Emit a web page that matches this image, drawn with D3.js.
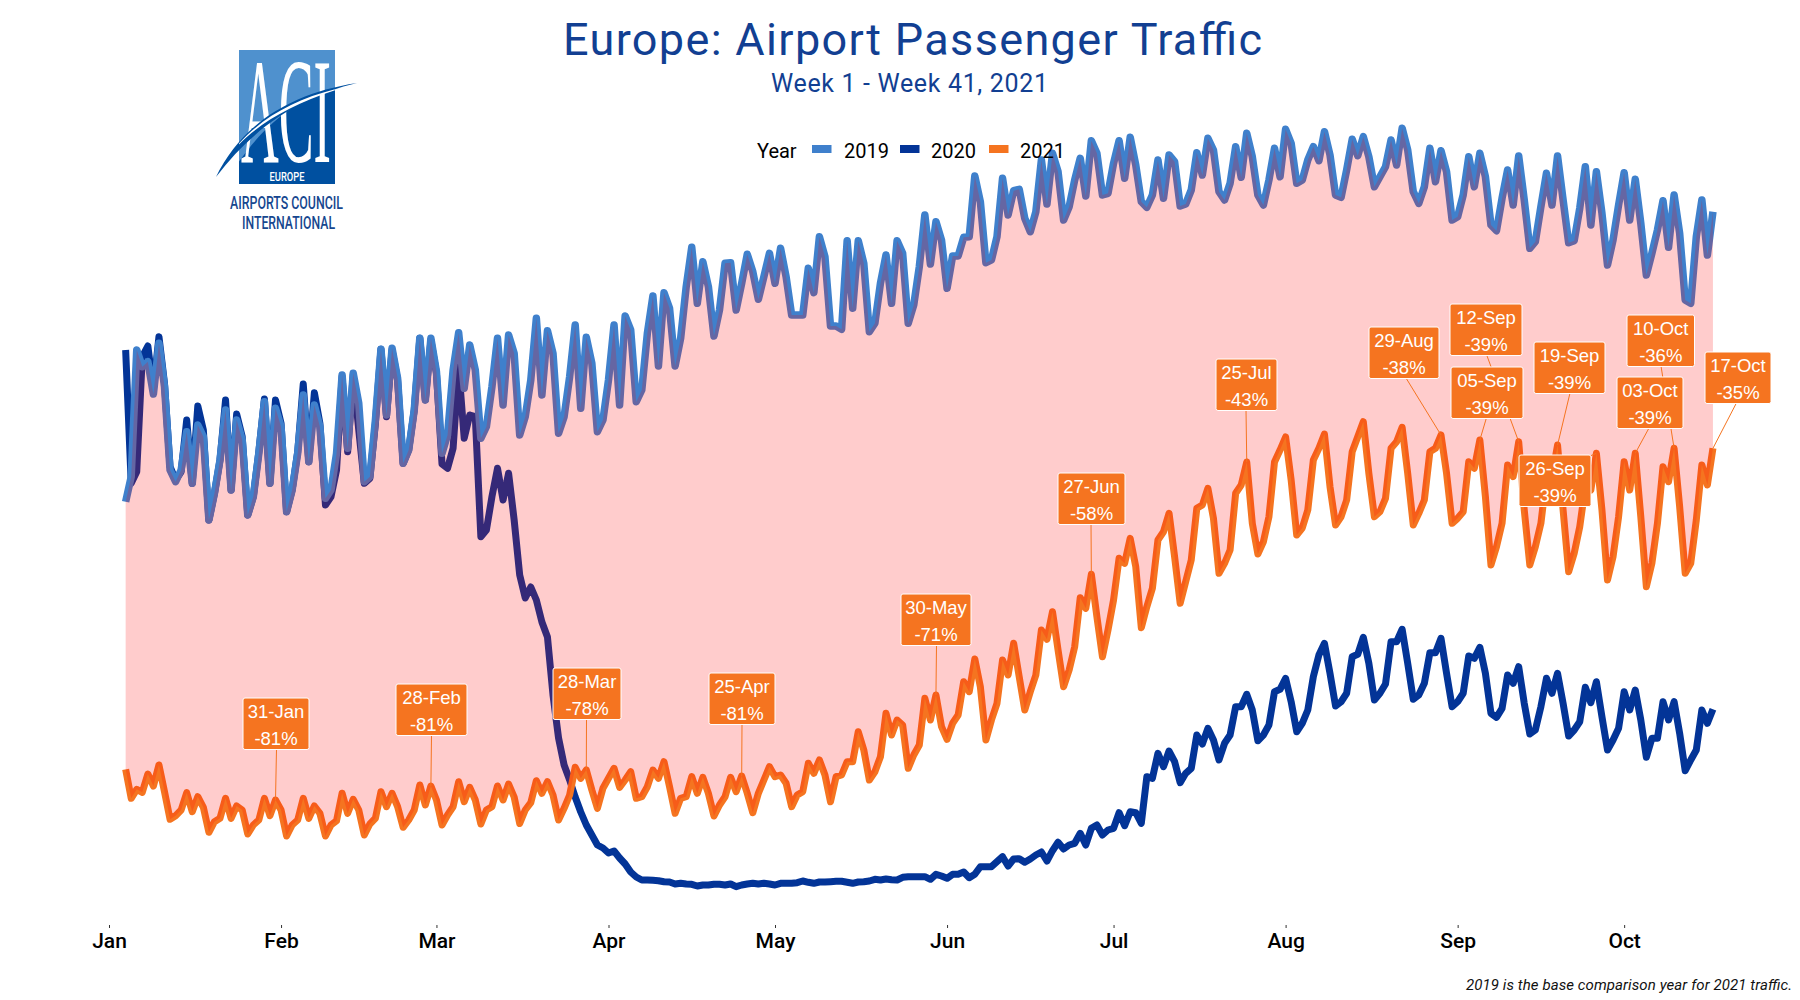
<!DOCTYPE html>
<html><head><meta charset="utf-8">
<style>html,body{margin:0;padding:0;background:#fff}svg{display:block}</style>
<script src="https://cdn.jsdelivr.net/npm/d3@7"></script>
</head><body><div id="c"></div>
<script>
// Daily airport passengers (thousands), 4 Jan .. 17 Oct
const firstDay = "2021-01-04", lastDay = "2021-10-17";
const pax2019 = [3933,4183,5450,5283,5333,5010,5517,5083,4250,4133,4250,4633,4117,4700,4583,3750,4017,4350,4850,4050,4750,4550,3800,3983,4417,4933,4117,4867,4683,3833,4050,4417,5000,4333,4900,4683,3967,4050,4417,5200,4467,5217,4917,4133,4183,4750,5457,4800,5467,5167,4317,4450,4850,5567,4950,5567,5233,4417,4600,5250,5623,5067,5500,5250,4567,4683,5083,5567,4900,5600,
5417,4600,4783,5150,5767,5000,5643,5417,4617,4783,5183,5700,4867,5577,5317,4633,4750,5150,5700,4900,5790,5650,4933,5050,5617,5990,5290,6023,5867,5290,5567,6083,6477,5917,6333,6083,5590,5850,6317,6323,5850,6117,6407,6233,5957,6183,6417,6117,6467,6183,5800,5800,5800,6267,6023,6583,6383,5690,5690,5657,6543,5867,6543,6317,5633,5717,6117,6400,5917,6543,
6417,5717,5900,6283,6800,6310,6733,6550,6067,6390,6390,6577,6583,7190,6933,6323,6350,6583,7167,6800,7043,7057,6767,6633,6833,7350,6910,7417,7233,6750,6883,7150,7367,6990,7543,7417,7000,7017,7317,7543,7167,7577,7300,6933,6877,7000,7350,6967,7400,7333,6890,6910,7050,7423,7200,7567,7450,7033,6950,7117,7483,7177,7617,7383,7000,6900,7150,7467,7183,7657,7517,7117,7150,7350,
7483,7343,7633,7400,7000,6977,7250,7557,7393,7583,7383,7083,7183,7283,7550,7300,7667,7450,7033,6917,7083,7467,7133,7443,7233,6750,6783,7000,7383,7083,7417,7183,6700,6643,6967,7250,6900,7390,6950,6467,6533,6883,7217,6900,7390,6950,6523,6543,6867,7283,6700,7233,6817,6300,6550,6900,7223,6750,7157,6717,6200,6417,6650,6943,6477,7000,6617,5950,5917,6583,6950,6400,6833];
const pax2020 = [5450,4117,4233,5383,5490,5050,5583,5117,4283,4150,4233,4750,4117,4890,4650,3750,4017,4350,4950,4050,4810,4583,3800,3983,4433,4960,4117,4950,4717,3833,4050,4433,5110,4333,5023,4717,3900,3983,4250,5183,4433,5200,4650,4117,4167,4717,5457,4783,5450,5150,4317,4450,4850,5567,4950,5550,5217,4310,4267,4467,5283,4567,4800,4783,3583,3650,3983,4267,3950,4217,
3750,3200,2970,3080,2950,2730,2580,2000,1570,1300,1150,980,830,700,600,500,470,420,440,370,310,230,180,150,150,147,143,133,130,110,117,110,107,90,100,100,107,107,100,110,83,100,110,117,110,117,110,100,117,117,117,123,140,127,117,130,130,133,137,137,127,117,130,133,140,157,150,160,153,150,
177,183,183,183,183,157,207,190,167,207,207,230,173,207,283,283,283,333,383,290,360,363,327,360,400,430,340,443,527,460,500,517,617,500,667,700,600,650,667,823,693,833,823,717,1183,1167,1417,1283,1440,1333,1123,1217,1267,1600,1510,1667,1550,1350,1517,1600,1883,1883,2007,1850,1543,1600,1700,2033,2057,2167,1933,1633,1717,1850,
2183,2400,2517,2217,1890,1933,2017,2383,2407,2577,2317,1950,2017,2110,2533,2533,2657,2317,1957,2000,2117,2423,2423,2567,2217,1883,1933,2017,2390,2367,2477,2217,1817,1777,1867,2200,2117,2283,1917,1610,1650,1883,2167,2017,2217,1917,1590,1650,1733,2077,1923,2133,1783,1450,1550,1667,2033,1850,2050,1750,1377,1567,1567,1933,1750,1933,1617,1243,1350,1450,1850,1717,1857];
const pax2021 = [1257,967,1057,1027,1210,1090,1300,1033,757,793,850,1023,833,983,877,627,733,767,967,767,890,850,610,700,750,967,793,950,850,590,700,750,967,767,890,817,590,700,743,1017,817,957,850,600,710,767,1033,883,1017,883,677,750,850,1100,900,1090,950,700,800,883,1133,933,1077,950,710,850,883,1090,950,1110,
980,715,850,923,1143,1017,1133,1000,750,867,1000,1277,1167,1250,1050,867,1067,1167,1267,1077,1150,1233,967,983,1083,1250,1167,1333,1083,817,967,983,1183,1017,1177,1017,790,900,983,1177,1033,1190,1017,823,1017,1150,1283,1183,1200,1117,883,1000,1033,1317,1217,1350,1200,933,1183,1200,1333,1333,1633,1450,1150,1233,1383,1817,1600,1750,
1700,1267,1400,1500,1967,1750,2000,1683,1557,1717,1800,2133,2033,2360,2083,1550,1750,1917,2350,2200,2517,2183,1850,2033,2200,2650,2557,2833,2450,2083,2250,2483,2973,2867,3207,2783,2383,2650,2950,3367,3317,3567,3283,2673,2883,3067,3550,3633,3817,3383,2917,3133,3350,3867,3900,4067,3767,3217,3317,3450,4017,4100,4330,3717,3410,3533,3783,4330,4450,4580,4150,3600,3670,3850,
4350,4467,4610,4083,3700,3783,3950,4433,4583,4733,4217,3783,3833,3967,4467,4533,4677,4217,3700,3817,3950,4433,4467,4600,4217,3717,3767,3833,4333,4267,4550,3983,3300,3483,3717,4300,4183,4533,3850,3300,3483,3717,4183,4183,4500,3850,3233,3417,3683,4083,4050,4417,3850,3150,3383,3783,4333,4050,4417,3783,3083,3317,3717,4283,4133,4467,3883,3217,3317,3750,4300,4100,4467];

const years = ["2019","2020","2021"];
const monthNames = ["Jan","Feb","Mar","Apr","May","Jun","Jul","Aug","Sep","Oct"];
const labelDates = ["2021-01-31","2021-02-28","2021-03-28","2021-04-25","2021-05-30","2021-06-27","2021-07-25","2021-08-29","2021-09-05","2021-09-12","2021-09-19","2021-09-26","2021-10-03","2021-10-10","2021-10-17"];
const labelNames = ["31-Jan","28-Feb","28-Mar","25-Apr","30-May","27-Jun","25-Jul","29-Aug","05-Sep","12-Sep","19-Sep","26-Sep","03-Oct","10-Oct","17-Oct"];
const labelPct = ["-81%","-81%","-78%","-81%","-71%","-58%","-43%","-38%","-39%","-39%","-39%","-39%","-39%","-36%","-35%"];
// label box layout: [left, top, width, leader start x, leader start y]
const labelLayout = [[243,698,66,276.5,749],[396,684,71,431.5,735],[553,668,68,586.5,718],[709,673,66,742,724],[901,594,70,936.5,645],[1058,473,67,1091,524],[1216,359,61,1246,410],[1369,327,70,1406,378],[1451,367,72,1486.7,417],[1450,304,72,1486.7,355],[1534,342,71,1570,393],[1519,455,72,1590,456],[1617,377,66,1649,428],[1627,315,67.5,1661,366],[1705,352,66,1736.4,403]];

const W = 1800, H = 1000;
const parse = d3.utcParse("%Y-%m-%d");
const days = d3.utcDay.range(parse(firstDay), d3.utcDay.offset(parse(lastDay), 1));
[pax2019, pax2020, pax2021].forEach((a, i) => { if (a.length !== days.length) throw new Error("length " + years[i] + " " + a.length + " vs " + days.length); });

const x = d3.scaleUtc().domain([parse("2021-01-01"), parse("2021-10-17")]).range([109, 109 + 5.55 * 289]);
const y = d3.scaleLinear().domain([0, 7000]).range([895, 195]);
const col = {"2019": "#3F80CC", "2020": "#033497", "2021": "#F57420"};
const series = {"2019": pax2019, "2020": pax2020, "2021": pax2021};
const widths = {"2019": 7.5, "2020": 7, "2021": 7};

const svg = d3.select("#c").append("svg").attr("width", W).attr("height", H).attr("viewBox", `0 0 ${W} ${H}`);
const font = "Roboto, sans-serif";

// lines are under the translucent ribbon
const line = d3.line().x((d, i) => x(days[i])).y(d => y(d)).curve(d3.curveLinear);
["2020", "2019", "2021"].forEach(k => svg.append("path").attr("d", line(series[k])).attr("fill", "none")
  .attr("stroke", col[k]).attr("stroke-width", widths[k]).attr("stroke-linejoin", "round").attr("stroke-linecap", "butt"));
const ribbon = d3.area().x((d, i) => x(days[i])).y0((d, i) => y(pax2021[i])).y1(d => y(d));
svg.append("path").attr("d", ribbon(pax2019)).attr("fill", "#FF0000").attr("fill-opacity", 0.2);

// axis
const axis = d3.axisBottom(x).tickValues(monthNames.map((m, i) => new Date(Date.UTC(2021, i, 1))))
  .tickFormat((d, i) => monthNames[i]).tickSize(3).tickSizeOuter(0).tickPadding(5);
const gx = svg.append("g").attr("transform", "translate(0,925)").call(axis);
gx.select(".domain").remove();
gx.selectAll("line").attr("stroke", "#333");
gx.selectAll("text").attr("font-family", font).attr("font-size", 21).attr("font-weight", 500).attr("fill", "#000");

// labels
const lab = labelDates.map((s, i) => {
  const dt = parse(s), idx = d3.utcDay.count(days[0], dt);
  return {px: x(dt), py: y(pax2021[idx]), name: labelNames[i], pct: labelPct[i], b: labelLayout[i]};
});
const gl = svg.append("g");
gl.selectAll("line").data(lab).join("line")
  .attr("x1", d => d.b[3]).attr("y1", d => d.b[4]).attr("x2", d => d.px).attr("y2", d => d.py)
  .attr("stroke", col["2021"]).attr("stroke-width", 1);
const gb = gl.selectAll("g").data(lab).join("g");
gb.append("rect").attr("x", d => d.b[0]).attr("y", d => d.b[1]).attr("width", d => d.b[2]).attr("height", 51.5)
  .attr("rx", 2).attr("fill", col["2021"]).attr("stroke", "#fff").attr("stroke-width", 1);
const lf = "'Liberation Sans', Arial, sans-serif";
gb.append("text").attr("x", d => d.b[0] + d.b[2] / 2).attr("y", d => d.b[1] + 20).attr("text-anchor", "middle")
  .attr("font-family", lf).attr("font-size", 18.5).attr("fill", "#fff").text(d => d.name);
gb.append("text").attr("x", d => d.b[0] + d.b[2] / 2).attr("y", d => d.b[1] + 46.5).attr("text-anchor", "middle")
  .attr("font-family", lf).attr("font-size", 18.5).attr("fill", "#fff").text(d => d.pct);

// titles
const navy = "#123F92";
svg.append("text").attr("x", 563).attr("y", 55).attr("font-family", font).attr("font-size", 45).attr("fill", navy)
  .attr("textLength", 699).attr("lengthAdjust", "spacing").text("Europe: Airport Passenger Traffic");
svg.append("text").attr("x", 771).attr("y", 92).attr("font-family", font).attr("font-size", 25).attr("fill", navy)
  .attr("textLength", 277).attr("lengthAdjust", "spacing").text("Week 1 - Week 41, 2021");

// legend
const legX = [[812, 844], [900, 931], [989, 1020]];
svg.append("text").attr("x", 757).attr("y", 158).attr("font-family", font).attr("font-size", 20).attr("fill", "#000").text("Year");
years.forEach((k, i) => {
  svg.append("rect").attr("x", legX[i][0]).attr("y", 145).attr("width", 19.5).attr("height", 8).attr("fill", col[k]);
  svg.append("text").attr("x", legX[i][1]).attr("y", 158).attr("font-family", font).attr("font-size", 20).attr("fill", "#000").text(k);
});

// caption
svg.append("text").attr("x", 1792).attr("y", 990).attr("text-anchor", "end").attr("font-family", font).attr("font-style", "italic")
  .attr("font-size", 15).attr("fill", "#111").attr("textLength", 326).attr("lengthAdjust", "spacing").text("2019 is the base comparison year for 2021 traffic.");

// ACI logo
const logo = svg.append("g");
const defs = svg.append("defs");
defs.append("clipPath").attr("id", "box").append("rect").attr("x", 239).attr("y", 50).attr("width", 96).attr("height", 134);
logo.append("rect").attr("x", 239).attr("y", 50).attr("width", 96).attr("height", 134).attr("fill", "#0050A0");
logo.append("path").attr("clip-path", "url(#box)").attr("fill", "#4F91CE")
  .attr("d", "M230,40H340V88C300,95 262,125 232,172Z");
logo.append("text").attr("x", 241).attr("y", 162).attr("font-family", "'Liberation Serif', serif").attr("font-size", 150).attr("fill", "#fff")
  .attr("textLength", 90).attr("lengthAdjust", "spacingAndGlyphs").text("ACI");
const swoosh = "M216,177C240,128 285,94 357,83C305,95 255,125 216,177Z";
logo.append("path").attr("d", swoosh).attr("fill", "#0050A0");
logo.append("path").attr("d", "M232,152C256,124 292,103 345,87C298,97 258,118 232,152Z").attr("clip-path", "url(#box)").attr("fill", "#fff");
logo.append("text").attr("x", 287).attr("y", 181).attr("text-anchor", "middle").attr("font-family", font).attr("font-size", 13).attr("font-weight", 500).attr("fill", "#fff")
  .attr("textLength", 35).attr("lengthAdjust", "spacingAndGlyphs").text("EUROPE");
logo.append("text").attr("x", 230).attr("y", 209).attr("font-family", font).attr("font-size", 19).attr("font-weight", 500).attr("fill", "#16478F")
  .attr("textLength", 113).attr("lengthAdjust", "spacingAndGlyphs").text("AIRPORTS COUNCIL");
logo.append("text").attr("x", 242).attr("y", 229).attr("font-family", font).attr("font-size", 19).attr("font-weight", 500).attr("fill", "#16478F")
  .attr("textLength", 93).attr("lengthAdjust", "spacingAndGlyphs").text("INTERNATIONAL");
</script></body></html>
